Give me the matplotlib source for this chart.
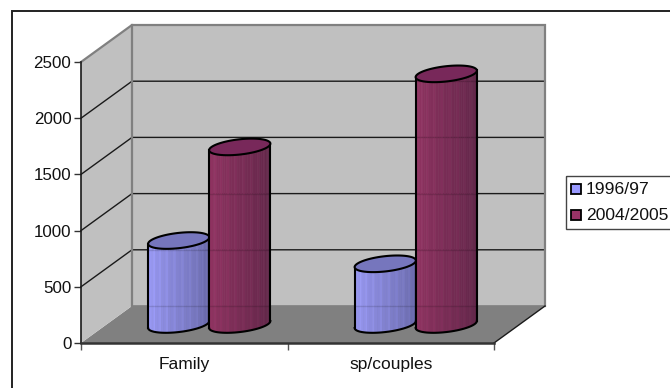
import numpy as np
import matplotlib
matplotlib.use('Agg')
import matplotlib.pyplot as plt
from matplotlib.colors import to_rgb
from matplotlib.patches import Rectangle

plt.rcParams['font.family'] = ['Liberation Sans', 'DejaVu Sans']

categories  = ['Family', 'sp/couples']
series      = ['1996/97', '2004/2005']
values_9697 = [747, 540]
values_0405 = [1580, 2230]
yticks      = [0, 500, 1000, 1500, 2000, 2500]

W, H = 670, 388

fig = plt.figure(figsize=(W/100, H/100), dpi=100, facecolor='white')
# axes sit on the front plane of the 3d box
ax = fig.add_axes([81/W, 1-343/H, 413/W, 281/H], facecolor='none')
ax.set_xlim(0, 2)
ax.set_ylim(0, 2500)

px_x = 2/413.
px_y = 2500/281.
depth_x = 51*px_x
depth_y = 37*px_y


def poly(x, y, **kw):
    kw.setdefault('clip_on', False)
    kw.setdefault('linewidth', 0)
    return ax.fill(x, y, **kw)


# floor and walls
poly([0, 2, 2+depth_x, depth_x], [0, 0, depth_y, depth_y], color='#808080', zorder=1)
poly([0, depth_x, depth_x, 0], [0, depth_y, 2500+depth_y, 2500], color='#c0c0c0', zorder=1)
poly([depth_x, 2+depth_x, 2+depth_x, depth_x], [depth_y, depth_y, 2500+depth_y, 2500+depth_y],
     color='#c0c0c0', zorder=1)

for t in yticks[1:-1]:
    ax.plot([0, depth_x, 2+depth_x], [t, t+depth_y, t+depth_y], color='#1a1a1a', lw=1, clip_on=False, zorder=2)

# wall outlines
edge = dict(color='#808080', lw=1.6, clip_on=False, zorder=2, solid_joinstyle='miter')
ax.plot([0, depth_x, 2+depth_x, 2+depth_x], [2500, 2500+depth_y, 2500+depth_y, depth_y], **edge)
ax.plot([depth_x, depth_x], [depth_y, 2500+depth_y], **edge)
ax.plot([depth_x, 2+depth_x], [depth_y, depth_y], color='#808080', lw=1.2, clip_on=False, zorder=2)
ax.plot([2, 2+depth_x], [0, depth_y], color='#1a1a1a', lw=1, clip_on=False, zorder=2)


def cylinder(x0, value, light, dark, top, z):
    # tilted ellipse ends, half a box depth back from the front plane
    a, b, tilt = 30.8, 7.6, np.radians(6.5)
    th = np.linspace(0, 2*np.pi, 120)
    ex = (a*np.cos(th)*np.cos(tilt) - b*np.sin(th)*np.sin(tilt))*px_x
    ey = (a*np.cos(th)*np.sin(tilt) + b*np.sin(th)*np.cos(tilt))*px_y
    cx = x0 + depth_x/2
    base = depth_y/2

    # body, built from thin vertical strips with a faint ribbing
    n = 36
    s = np.linspace(0, np.pi, n+1)
    sx = -np.cos(s)*a*np.cos(tilt)*px_x
    sy = -np.cos(s)*a*np.sin(tilt)*px_y - np.sin(s)*b*np.cos(tilt)*px_y
    c0, c1 = np.array(to_rgb(light)), np.array(to_rgb(dark))
    for i in range(n):
        f = (i+.5)/n
        col = c0 + (c1-c0)*f
        if i % 3 == 1 and f > 0.15:
            col = np.clip(col*1.05, 0, 1)
        poly([cx+sx[i], cx+sx[i+1], cx+sx[i+1], cx+sx[i]],
             [base+sy[i], base+sy[i+1], base+value+sy[i+1], base+value+sy[i]],
             facecolor=col, edgecolor=col, linewidth=0.4, zorder=z)

    # gridlines show faintly through the body
    for t in yticks[:-1]:
        if t+depth_y < base+value:
            ax.plot([cx+sx[0], cx+sx[-1]], [t+depth_y, t+depth_y], color='black', lw=1, alpha=.13,
                    clip_on=False, zorder=z+.05)

    # outline
    ax.plot(cx+sx, base+sy, color='black', lw=1.5, clip_on=False, zorder=z+.1)
    ax.plot([cx+sx[0], cx+sx[0]], [base+sy[0], base+value+sy[0]], color='black', lw=1.5, clip_on=False, zorder=z+.1)
    ax.plot([cx+sx[-1], cx+sx[-1]], [base+sy[-1], base+value+sy[-1]], color='black', lw=1.5, clip_on=False, zorder=z+.1)
    ax.fill(cx+ex, base+value+ey, facecolor=top, edgecolor='black', linewidth=1.5, clip_on=False, zorder=z+.2)


slot = 60*px_x
for k in range(2):
    mid = k + .5
    cylinder(mid-slot/2-1*px_x, values_9697[k], '#a0a0ff', '#62629f', '#7676bd', 3+k)
    cylinder(mid+slot/2, values_0405[k], '#973565', '#5a2445', '#78285a', 3.5+k)

# axes, ticks and labels through matplotlib
for name in ['top', 'right']:
    ax.spines[name].set_visible(False)
ax.spines['left'].set_color('#1a1a1a')
ax.spines['left'].set_linewidth(1.2)
ax.spines['bottom'].set_color('#333333')
ax.spines['bottom'].set_linewidth(1.8)
ax.spines['left'].set_zorder(6)
ax.spines['bottom'].set_zorder(6)
ax.set_yticks(yticks)
ax.set_xticks([0, 1, 2])
ax.set_xticklabels([])
ax.set_xticks([.5, 1.5], categories, minor=True)
ax.tick_params(axis='x', which='minor', length=0, labelsize=12.5, pad=10, labelcolor='#111111')
ax.tick_params(axis='x', which='major', length=5, width=1, color='#555555')
ax.tick_params(axis='y', length=5, width=1, labelsize=12.2, pad=2, color='#333333', labelcolor='#111111')

# chart area border has only top and left edges, legend box runs off the right
bg = fig.add_axes([0, 0, 1, 1], facecolor='none', zorder=5)
bg.set_xlim(0, W)
bg.set_ylim(H, 0)
bg.axis('off')
bg.plot([11.5, 11.5, W], [H, 10.5, 10.5], color='#222222', lw=1.4, solid_joinstyle='miter')
bg.add_patch(Rectangle((565.5, 175.5), 110, 53, fill=False, ec='#444444', lw=1))
for yy, col, lab in zip([189, 215], ['#9999ff', '#993366'], series):
    bg.add_patch(Rectangle((571, yy-5), 10, 10, fc=col, ec='black', lw=1.3))
    bg.text(586, yy, lab, fontsize=12.6, va='center', ha='left', color='#111111')

fig.savefig('out.png', dpi=100)
